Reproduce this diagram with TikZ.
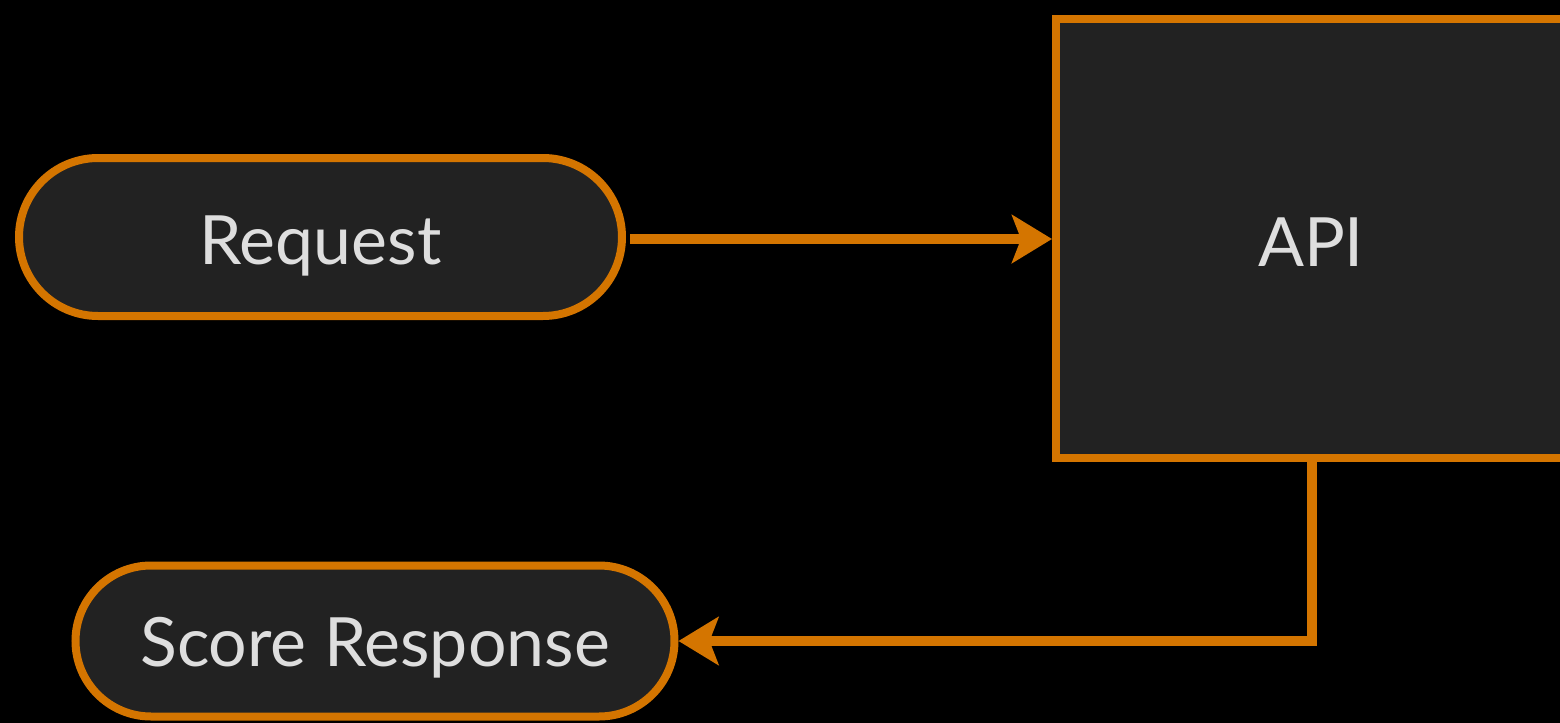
\documentclass[tikz,border=0pt]{standalone}
\usepackage{fontspec}
\setmainfont{Lato}
\usetikzlibrary{arrows.meta}
\definecolor{bord}{HTML}{D47500}
\definecolor{boxfill}{HTML}{222222}
\definecolor{txt}{HTML}{DEDEDE}
\tikzset{
  pill/.style={draw=bord, fill=boxfill, line width=4pt, rectangle, inner sep=0pt,
    text=txt, font=\fontsize{34}{40}\selectfont},
  apibox/.style={draw=bord, fill=boxfill, line width=4pt, rectangle, inner sep=0pt,
    text=txt, font=\fontsize{34}{40}\selectfont},
  conn/.style={draw=bord, line width=5pt, -{Stealth[length=20pt,width=24pt,inset=4.5pt]}},
}
\begin{document}
\begin{tikzpicture}[x=0.5pt,y=-0.5pt]
\fill[black] (0,0) rectangle (1560,723);
\useasboundingbox (0,0) rectangle (1560,723);
\clip (0,0) rectangle (1560,723);
\node[pill, minimum width=301.5pt, minimum height=79pt, rounded corners=39.5pt] (req) at (320.5,237) {\raisebox{-4.5pt}[\height][\depth]{Request}};
\node[apibox, minimum width=256pt, minimum height=219.5pt] (api) at (1312,238.5) {};
\node[text=txt, font=\fontsize{34}{40}\selectfont] (apil) at (1311,242.5) {API};
\node[pill, minimum width=299.5pt, minimum height=75.5pt, rounded corners=37.75pt] (score) at (375,641) {\raisebox{-3.5pt}[\height][\depth]{Score Response}};
\path (req.east) ++(4,2) coordinate (reqout);
\draw[conn] (reqout) -- (reqout -| api.west);
\draw[conn] (api.south) |- (score.east);
\end{tikzpicture}
\end{document}
